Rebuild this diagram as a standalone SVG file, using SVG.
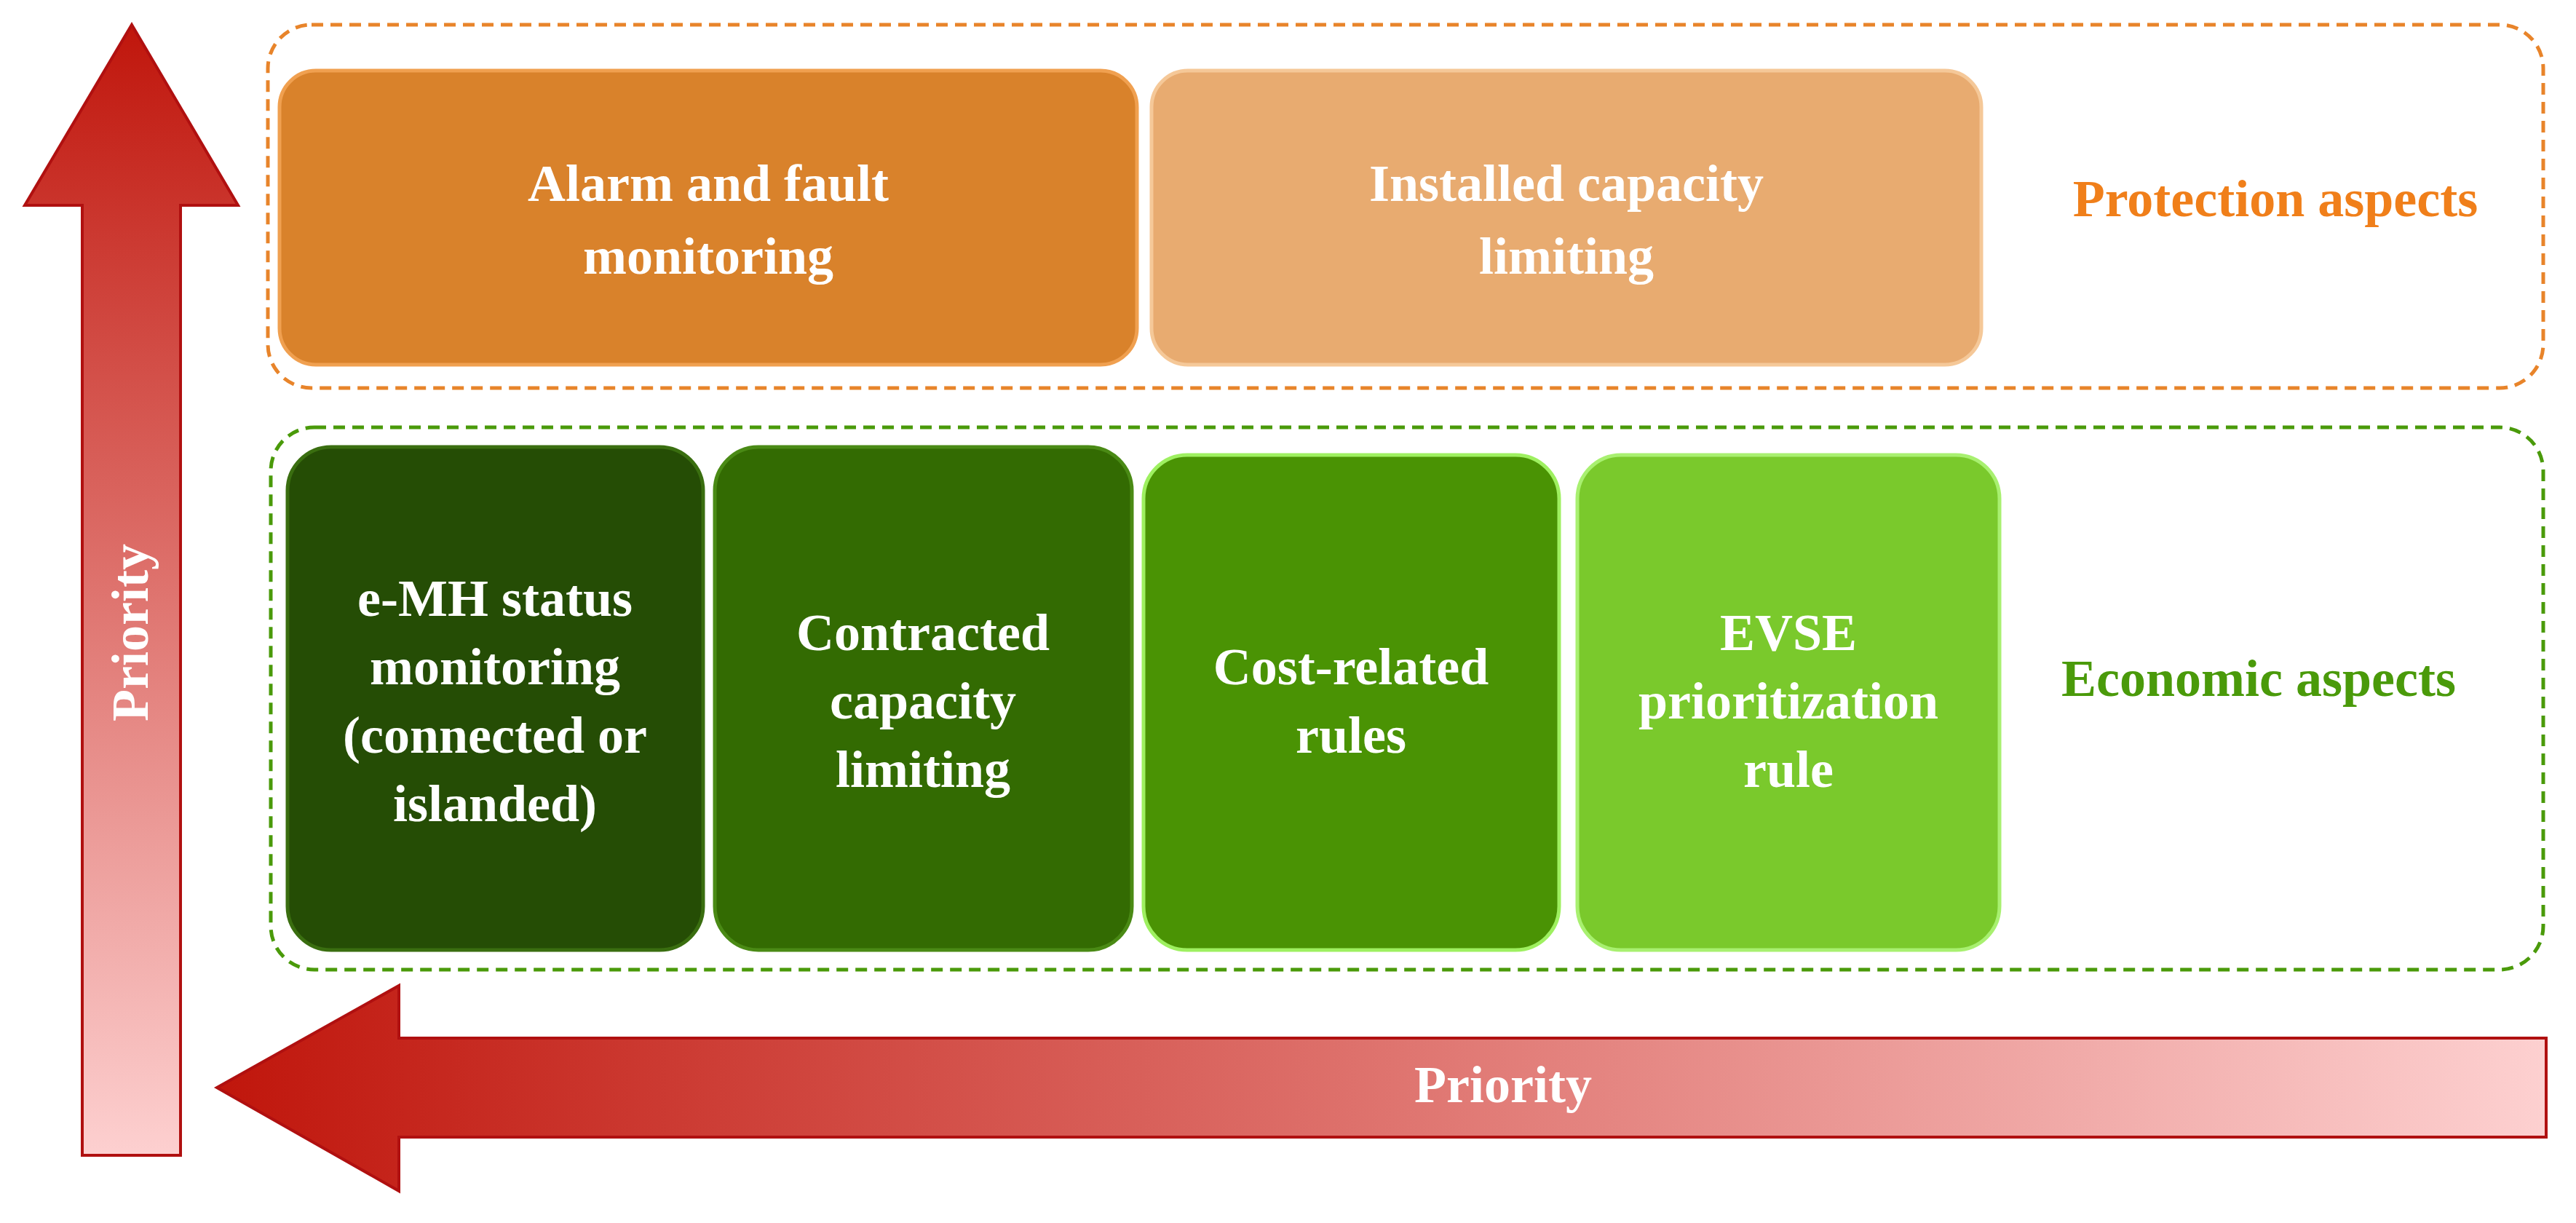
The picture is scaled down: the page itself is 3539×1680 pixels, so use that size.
<svg xmlns="http://www.w3.org/2000/svg" width="3539" height="1680" viewBox="0 0 3539 1680">
<defs>
<linearGradient id="gv" x1="0" y1="0" x2="0" y2="1"><stop offset="0" stop-color="#c0160c"/><stop offset="1" stop-color="#fdd0d0"/></linearGradient>
<linearGradient id="gh" x1="0" y1="0" x2="1" y2="0"><stop offset="0" stop-color="#c0160c"/><stop offset="1" stop-color="#fdd0d0"/></linearGradient>
<style>
.t{font-family:"Liberation Serif",serif;font-weight:bold;font-size:72px;fill:#fff;text-anchor:middle}
.lab{font-family:"Liberation Serif",serif;font-weight:bold;font-size:72px;text-anchor:middle}
.box{stroke-width:5}
</style>
</defs>
<g id="arrows">
<polygon points="181,34 327,282 248,282 248,1587 113,1587 113,282 34,282" fill="url(#gv)" stroke="#b01010" stroke-width="4"/>
<polygon points="298,1494 548,1354 548,1426 3498,1426 3498,1562 548,1562 548,1636" fill="url(#gh)" stroke="#b01010" stroke-width="4"/>
<text class="t" transform="translate(203,869) rotate(-90)">Priority</text>
<text class="t" x="2065" y="1514">Priority</text>
</g>
<g id="protection">
<rect x="368" y="34" width="3126" height="499" rx="60" fill="none" stroke="#e8842a" stroke-width="5" stroke-dasharray="16,10"/>
<text class="lab" x="3126" y="297" fill="#f07f1a">Protection aspects</text>
</g>
<g id="economic">
<rect x="372" y="587" width="3122" height="745" rx="60" fill="none" stroke="#4a9a0a" stroke-width="5" stroke-dasharray="16,10"/>
<text class="lab" x="3103" y="956" fill="#4a9a0a">Economic aspects</text>
</g>
<g id="alarm">
<rect class="box" x="384" y="97" width="1178" height="404" rx="50" fill="#d9822b" stroke="#f0a050"/>
<text class="t" x="973" y="276">Alarm and fault</text><text class="t" x="973" y="376">monitoring</text>
</g>
<g id="installed">
<rect class="box" x="1582" y="97" width="1140" height="404" rx="50" fill="#e8ab70" stroke="#f5c898"/>
<text class="t" x="2152" y="276">Installed capacity</text><text class="t" x="2152" y="376">limiting</text>
</g>
<g id="emh">
<rect class="box" x="395" y="614" width="571" height="691" rx="60" fill="#254d05" stroke="#3a6e10"/>
<text class="t" x="680" y="846">e-MH status</text><text class="t" x="680" y="940">monitoring</text><text class="t" x="680" y="1034">(connected or</text><text class="t" x="680" y="1128">islanded)</text>
</g>
<g id="contracted">
<rect class="box" x="982" y="614" width="573" height="691" rx="60" fill="#336b02" stroke="#4a8a15"/>
<text class="t" x="1268" y="893">Contracted</text><text class="t" x="1268" y="987">capacity</text><text class="t" x="1268" y="1081">limiting</text>
</g>
<g id="cost">
<rect class="box" x="1571" y="625" width="571" height="680" rx="60" fill="#4a9304" stroke="#9ef060"/>
<text class="t" x="1856" y="940">Cost-related</text><text class="t" x="1856" y="1034">rules</text>
</g>
<g id="evse">
<rect class="box" x="2167" y="625" width="580" height="680" rx="60" fill="#7ac92c" stroke="#a8f070"/>
<text class="t" x="2457" y="893">EVSE</text><text class="t" x="2457" y="987">prioritization</text><text class="t" x="2457" y="1081">rule</text>
</g>
</svg>
